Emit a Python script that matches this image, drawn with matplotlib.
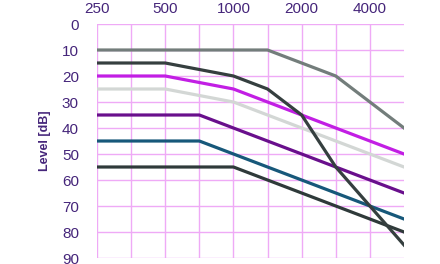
import matplotlib
matplotlib.use('Agg')
import matplotlib.pyplot as plt
from matplotlib.ticker import FixedLocator, NullFormatter

plt.rcParams['font.family'] = ['Liberation Sans', 'DejaVu Sans']

# frequencies at every half octave (Hz)
freqs = [250, 354, 500, 707, 1000, 1414, 2000, 2828, 4000, 5657]
octave_ticks = [250, 500, 1000, 2000, 4000]
octave_labels = ['250', '500', '1000', '2000', '4000']
level_ticks = [0, 10, 20, 30, 40, 50, 60, 70, 80, 90]

# hearing levels in dB for each curve
gray = [10, 10, 10, 10, 10, 10, 15, 20, 30, 40]
magenta = [20, 20, 20, 22.5, 25, 30, 35, 40, 45, 50]
light_gray = [25, 25, 25, 27.5, 30, 35, 40, 45, 50, 55]
purple = [35, 35, 35, 35, 40, 45, 50, 55, 60, 65]
teal = [45, 45, 45, 45, 50, 55, 60, 65, 70, 75]
dark_low = [55, 55, 55, 55, 55, 60, 65, 70, 75, 80]
dark_steep = [15, 15, 15, 17.5, 20, 25, 35, 55, 70, 85]

text_col = '#45257a'
grid_col = '#efaaf6'

fig = plt.figure(figsize=(4.4, 2.64), dpi=100)
ax = fig.add_axes([97 / 440, 6 / 264, 307 / 440, 234 / 264])

ax.plot(freqs, gray, color='#737d7b', lw=2.3)
ax.plot(freqs, light_gray, color='#d3d7d5', lw=2.3)
ax.plot(freqs, magenta, color='#c21ee4', lw=2.3)
ax.plot(freqs, purple, color='#690f8c', lw=2.3)
ax.plot(freqs, teal, color='#17587a', lw=2.3)
ax.plot(freqs, dark_low, color='#2f3a3a', lw=2.3)
ax.plot(freqs, dark_steep, color='#353f3f', lw=2.3)

ax.set_xscale('log', base=2)
ax.set_xlim(250, 250 * 2 ** 4.5)
ax.set_ylim(90, 0)

ax.xaxis.set_major_locator(FixedLocator(octave_ticks))
ax.set_xticklabels(octave_labels)
ax.xaxis.set_minor_locator(FixedLocator(freqs))
ax.xaxis.set_minor_formatter(NullFormatter())
ax.set_yticks(level_ticks)

ax.xaxis.tick_top()
ax.tick_params(axis='both', which='both', length=0, colors=text_col, labelsize=11)
ax.tick_params(axis='x', pad=6)
ax.tick_params(axis='y', pad=13)

ax.grid(True, which='both', color=grid_col, lw=1)
ax.set_axisbelow(True)
for s in ax.spines.values():
    s.set_visible(False)

ax.set_ylabel('Level [dB]', color=text_col, fontsize=9, fontweight='bold', labelpad=8)

fig.savefig('out.png', dpi=100)
